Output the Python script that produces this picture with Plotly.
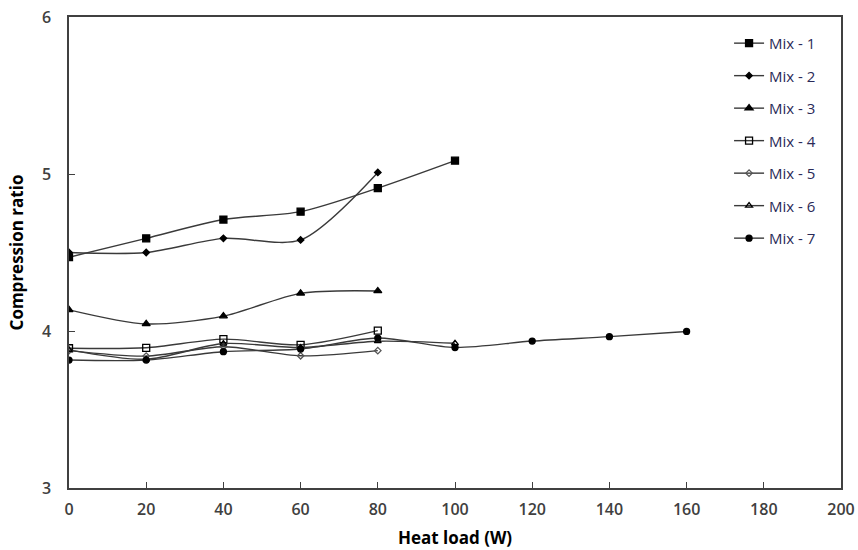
import plotly.graph_objects as go

heat_load = [0, 20, 40, 60, 80]
heat_load_6 = [0, 20, 40, 60, 80, 100]
heat_load_7 = [0, 20, 40, 60, 80, 100, 120, 140, 160]
heat_load_1 = [0, 20, 40, 60, 80, 100]

mix1 = [4.47, 4.59, 4.71, 4.76, 4.91, 5.085]
mix2 = [4.50, 4.50, 4.59, 4.58, 5.01]
mix3 = [4.135, 4.045, 4.095, 4.24, 4.255]
mix4 = [3.89, 3.893, 3.948, 3.912, 4.002]
mix5 = [3.875, 3.84, 3.90, 3.842, 3.875]
mix6 = [3.88, 3.82, 3.92, 3.895, 3.935, 3.922]
mix7 = [3.815, 3.815, 3.868, 3.885, 3.955, 3.895, 3.936, 3.964, 3.997]

series = [
    ("Mix - 1", heat_load_1, mix1, "square", 7, "black"),
    ("Mix - 2", heat_load, mix2, "diamond", 5, "black"),
    ("Mix - 3", heat_load, mix3, "triangle-up", 7, "black"),
    ("Mix - 4", heat_load, mix4, "square-open", 7, "black"),
    ("Mix - 5", heat_load, mix5, "diamond-open", 5, "#555"),
    ("Mix - 6", heat_load_6, mix6, "triangle-up-open", 6, "black"),
    ("Mix - 7", heat_load_7, mix7, "circle", 6, "black"),
]

fig = go.Figure()
for i, (name, xs, ys, sym, size, mcol) in enumerate(series):
    fig.add_trace(go.Scatter(
        x=xs, y=ys, name=name, mode="lines+markers",
        legendgroup=f"g{i}",
        line=dict(color="#3a3a3a", width=1.4, shape="spline", smoothing=0.8),
        marker=dict(symbol=sym, size=size, color=mcol,
                    line=dict(color="black", width=1.3)),
    ))

tick_font = dict(family="Open Sans, Lato, sans-serif", size=16, color="#404040",
                 weight=600)
axis_common = dict(
    showgrid=False, zeroline=False, showline=True, linecolor="#404040",
    linewidth=1.5, mirror=True, ticks="inside", ticklen=6, tickcolor="#404040",
    tickfont=tick_font, automargin=False,
)

fig.update_xaxes(
    range=[0, 200], tickmode="array", tickvals=list(range(0, 201, 20)),
    ticklabelstandoff=6,
    title=dict(text="<b>Heat load (W)</b>", standoff=13,
               font=dict(family="Open Sans, sans-serif", size=17, color="black")),
    **axis_common,
)
fig.update_yaxes(
    range=[3, 6], tickmode="array", tickvals=[3, 4, 5, 6],
    ticklabelstandoff=13,
    title=dict(text="<b>Compression ratio</b>", standoff=14,
               font=dict(family="Open Sans, sans-serif", size=17, color="black")),
    **axis_common,
)

fig.update_layout(
    width=858, height=550,
    margin=dict(l=69, r=17, t=17, b=62, autoexpand=False),
    paper_bgcolor="white", plot_bgcolor="white",
    showlegend=True,
    legend=dict(
        x=0.855, y=0.979, xanchor="left", yanchor="top",
        font=dict(family="Open Sans, sans-serif", size=15, color="#2a2a58"),
        bgcolor="rgba(0,0,0,0)", tracegroupgap=10, itemwidth=30,
    ),
)

fig.write_html("out.html")
